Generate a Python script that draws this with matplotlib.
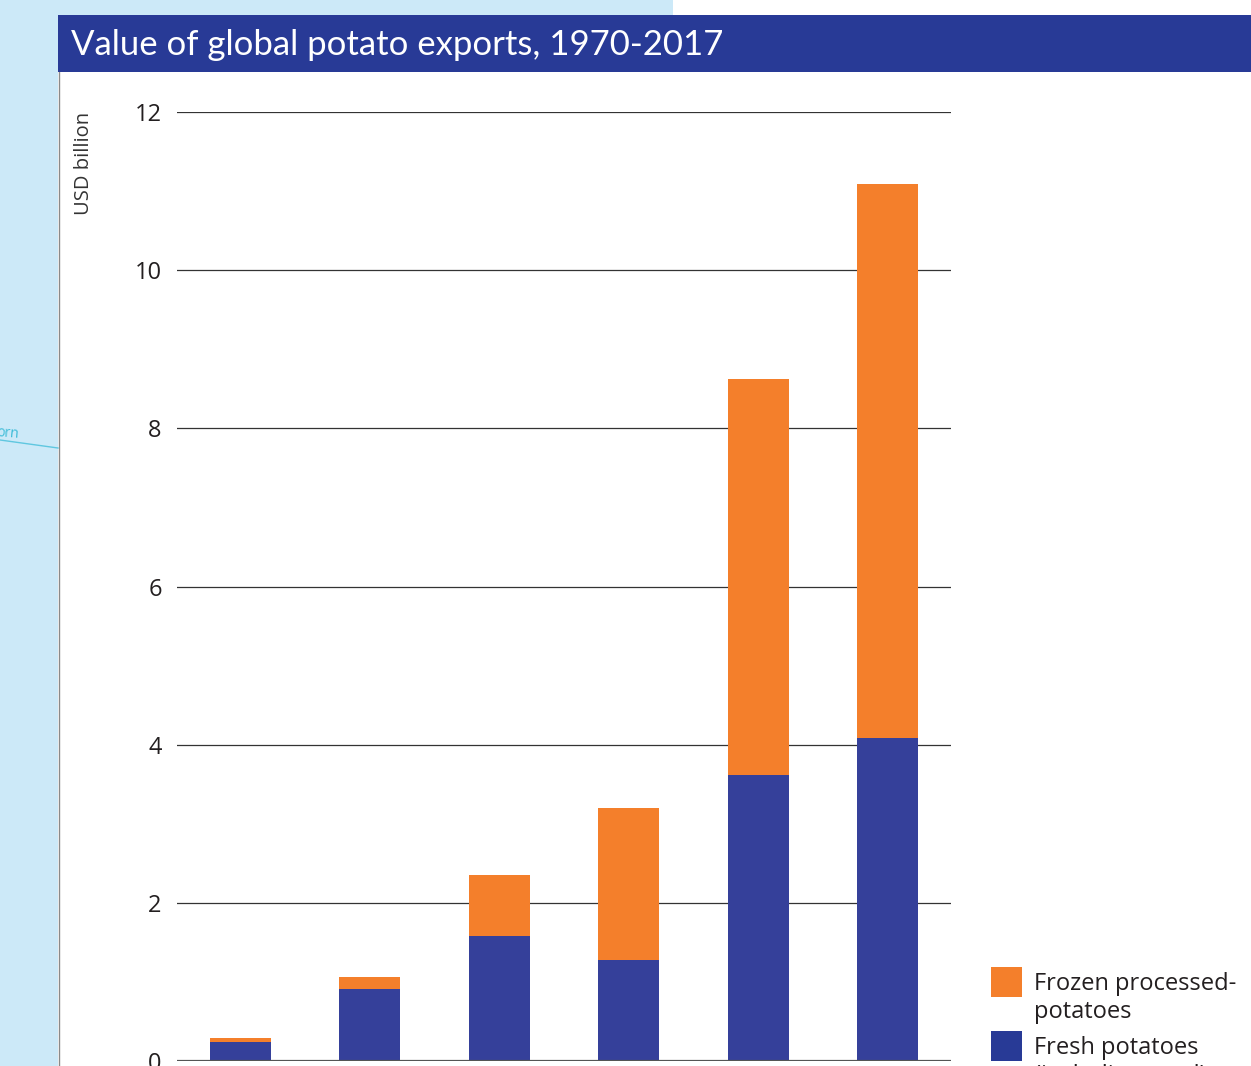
import matplotlib
matplotlib.use("Agg")
import matplotlib.pyplot as plt
from matplotlib.patches import Rectangle, FancyBboxPatch
from matplotlib.lines import Line2D

# ---- data ----
categories = ["1970", "1980", "1990", "2000", "2010", "2017"]
fresh = [0.24, 0.91, 1.58, 1.28, 3.62, 4.08]
frozen = [0.05, 0.15, 0.77, 1.92, 5.01, 7.01]
yticks = [0, 2, 4, 6, 8, 10, 12]
title = "Value of global potato exports, 1970-2017"
ylabel = "USD billion"
legend_labels = ["Frozen processed-\npotatoes", "Fresh potatoes\n(including seed)"]

# ---- style ----
C_ORANGE = "#f47f2b"
C_BLUE = "#35409a"
C_TITLE = "#283a96"
C_BG = "#cce9f8"
C_TEXT = "#231f20"
FONT = ["Open Sans", "DejaVu Sans"]
plt.rcParams["font.family"] = FONT

W, H = 1251, 1066
fig = plt.figure(figsize=(W / 100, H / 100), dpi=100)
fig.patch.set_facecolor("white")

def fx(px):
    return px / W

def fy(py):
    return 1 - py / H

# background page pieces
fig.patches.append(Rectangle((0, fy(15)), fx(673), 1 - fy(15), transform=fig.transFigure,
                             facecolor=C_BG, edgecolor="none", zorder=0))
fig.patches.append(Rectangle((0, 0), fx(58), 1, transform=fig.transFigure,
                             facecolor=C_BG, edgecolor="none", zorder=0))
fig.lines.append(Line2D([fx(58.5), fx(58.5)], [0, fy(72)], transform=fig.transFigure,
                        color="#8a8a8a", lw=1.0, zorder=1))
fig.lines.append(Line2D([0, fx(58)], [fy(440), fy(448)], transform=fig.transFigure,
                        color="#5fc7e0", lw=1.0, zorder=1))
fig.text(fx(-4), fy(433), "orn", color="#3fbcd8", fontsize=10, rotation=-5,
         ha="left", va="center", zorder=1)

# title bar
fig.patches.append(FancyBboxPatch((fx(58), fy(72)), fx(1251 + 20 - 58), fy(15) - fy(72),
                                  boxstyle="round,pad=0,rounding_size=0.008",
                                  transform=fig.transFigure, facecolor=C_TITLE,
                                  edgecolor="none", zorder=1))
fig.patches.append(Rectangle((fx(58), fy(72)), fx(100), fy(15) - fy(72),
                             transform=fig.transFigure, facecolor=C_TITLE,
                             edgecolor="none", zorder=1))
fig.text(fx(71), fy(45), title, color="white", fontsize=25, ha="left", va="center",
         family=["Lato", "DejaVu Sans"], zorder=2)

# axes
ax = fig.add_axes([fx(177), fy(1061), fx(951) - fx(177), fy(112) - fy(1061)])
ax.set_facecolor("none")
x = list(range(len(categories)))
bw = 0.47
ax.bar(x, fresh, width=bw, color=C_BLUE, zorder=3)
ax.bar(x, frozen, width=bw, bottom=fresh, color=C_ORANGE, zorder=3)
ax.set_xlim(-0.49, 5.49)
ax.set_ylim(0, 12)
ax.set_yticks(yticks)
ax.set_yticklabels([str(t) for t in yticks], fontsize=17, color=C_TEXT)
ax.tick_params(axis="y", length=0, pad=11)
ax.set_xticks([])
for s in ax.spines.values():
    s.set_visible(False)
for t in yticks[1:]:
    ax.axhline(t, color="#333333", lw=0.9, zorder=1)
ax.axhline(0, color="#555555", lw=1.6, zorder=4)

fig.text(fx(84), fy(112), ylabel, rotation=90, ha="center", va="top",
         fontsize=14.5, color="#333333")

# legend
handles = [C_ORANGE, C_TITLE]
ys = [967, 1031]
for col, lab, y0 in zip(handles, legend_labels, ys):
    fig.patches.append(Rectangle((fx(991), fy(y0 + 30)), fx(31), fy(y0) - fy(y0 + 30),
                                 transform=fig.transFigure, facecolor=col, edgecolor="none"))
    fig.text(fx(1034), fy(y0 + 5), lab, ha="left", va="top", fontsize=17,
             color=C_TEXT, linespacing=1.25)

fig.savefig("out.png", dpi=100)
